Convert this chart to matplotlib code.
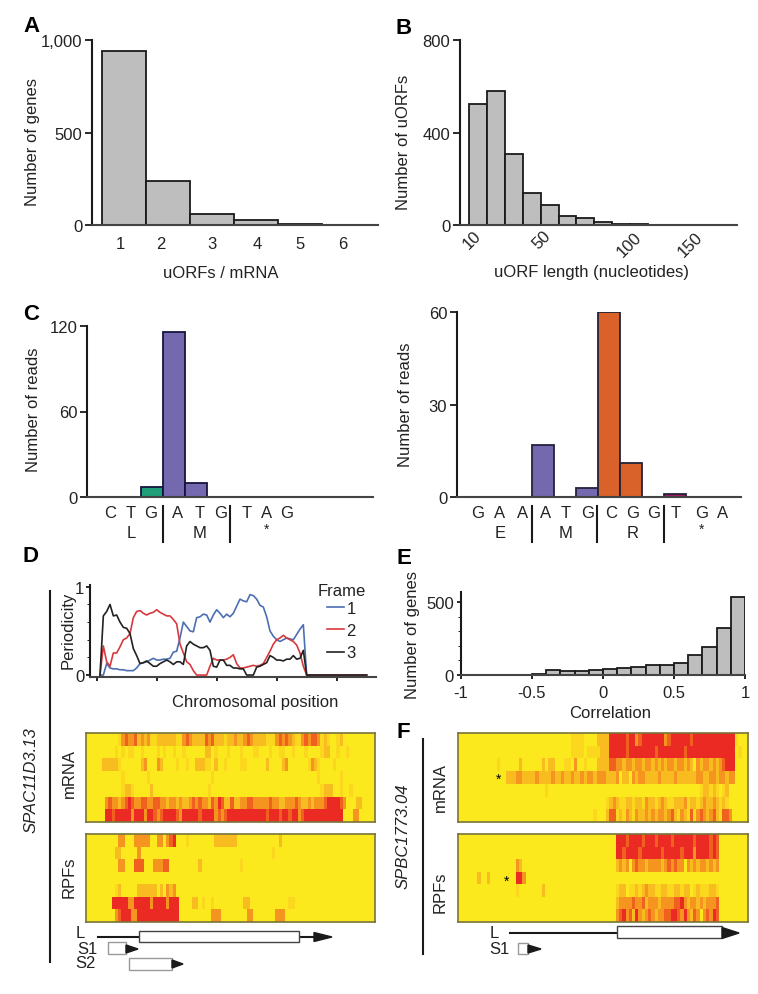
# chart recreation, values
import matplotlib
matplotlib.use('Agg')
import matplotlib.pyplot as plt
from matplotlib.colors import ListedColormap
import numpy as np

plt.rcParams['font.family'] = ['Liberation Sans', 'DejaVu Sans']
plt.rcParams['font.size'] = 12

W, H = 758, 995

# panel A
uorfs_per_mrna = [1, 2, 3, 4, 5, 6]
genes_per_count = [940, 240, 60, 25, 5, 1]

# panel B
length_bin_left = [2, 13.5, 25, 36.5, 48, 59.5, 71, 82.5, 94, 105.5, 117, 128.5, 140, 151.5, 163]
length_counts = [525, 580, 305, 140, 85, 40, 30, 12, 6, 3, 2, 1, 1, 1, 1]
length_ticks = ['10', '50', '100', '150']

# panel C, left and right
codons_c1 = ['C', 'T', 'G', 'A', 'T', 'G', 'T', 'A', 'G']
reads_c1 = [0, 0, 7, 116, 10, 0, 0, 0, 0, 0, 0, 0]
colors_c1 = ['#1F9E78', '#1F9E78', '#1F9E78', '#7468AE', '#7468AE', '#7468AE'] + ['#7468AE'] * 6
codons_c2 = ['G', 'A', 'A', 'A', 'T', 'G', 'C', 'G', 'G', 'T', 'G', 'A']
reads_c2 = [0, 0, 0, 17, 0, 3, 60, 11, 0, 1, 0, 0]
colors_c2 = ['#7468AE'] * 6 + ['#D9622B'] * 3 + ['#A6195F'] * 3

# panel D line plot
frame1 = [0, 0, .13, .08, .07, .07, .06, .06, .05, .05, .05, .08, .13, .14, .15, .17, .19, .17, .17, .18, .18,
          .19, .26, .27, .42, .60, .55, .50, .49, .65, .66, .69, .68, .60, .68, .74, .70, .65, .69, .66, .70,
          .78, .86, .84, .83, .91, .90, .86, .79, .77, .66, .50, .44, .40, .38, .40, .42, .41, .40, .46, .52, .57, 0]
frame2 = [0, .33, .15, .10, .25, .25, .32, .40, .42, .47, .65, .72, .73, .70, .68, .70, .71, .74, .71, .69, .67,
          .67, .63, .58, .35, .25, .15, .12, .05, 0, 0, 0, 0, .10, .19, .17, .17, .17, .18, .20, .23,
          .13, .08, .08, .09, .10, .11, .10, .11, .13, .20, .27, .35, .40, .42, .45, .42, .40, .38, .34, .25, .10, 0]
frame3 = [0, .67, .72, .80, .67, .68, .60, .54, .53, .47, .30, .22, .13, .14, .16, .13, .10, .10, .13, .15, .17,
          .15, .12, .15, .15, .12, .33, .38, .35, .33, .31, .31, .33, .28, .10, .09, .17, .17, .11, .11, .08,
          .08, .07, .07, 0, 0, 0, .09, .10, .12, .14, .22, .20, .17, .17, .16, .18, .18, .22, .18, .19, .28, 0]
trailing_zeros = [0] * 18
frame_ticks = [-1, 17, 35, 53, 71]

# panel E
corr_left = [-.5, -.4, -.3, -.2, -.1, 0, .1, .2, .3, .4, .5, .6, .7, .8, .9]
corr_counts = [10, 33, 27, 30, 37, 40, 47, 58, 72, 72, 82, 135, 190, 322, 535]

# heatmaps, one digit per cell (0 yellow .. 5 red), rows top to bottom
d_mrna = [
    "000000000013433423231122222211343222243422212232234322221113434321134344312100120000000000",
    "000000000101011001000010100100100000022010001000100011000100110010001000012200100100000000",
    "000002222210000002300032000010010022211020010000110000002000023000000132100001000000000000",
    "000000000001000000010000000000000000000100000000000000000000000000000000100000010000000000",
    "000000000001221000002000000000000000001000000000000000000000000000000000012220010010000000",
    "000000343323454334433443323323223434332435422422334433333433223334322323334555543000220000",
    "000000554555553555355434555543555554555534345555555555554555455455345555555555550003300000",
]
d_rpf = [
    "000000000033000333330033034500010000000022222220000000000000200000000000000000000000000000",
    "000000000220000030000000000000000000000000000000000000000010000000000000000000000000000000",
    "000000000033000444000333440000000002000000000000100000000000000000000000000000000000000000",
    "000000000000000000000000000000000000000000000000000000000000000000000000000000000000000000",
    "000000000120000022222202032300000000000000000000000000000000000000000000000000000000000000",
    "000000005555533555553555535550000220100100000000022000000000000110000000000000000000000000",
    "000000000345553355555555555550000000000333000000003300000003330000000000000000000000000000",
]
f_mrna = [
    "000000000000000000000000000000000001111000022225555545534555555534555555455555555555551000",
    "000000000000000000000000000000000001111011112225555545555555545555555545555555555555550100",
    "000000000000100000020000002022000110300100022224433233233233232323323323203233232345550000",
    "000000000000000222332222322223223223223233233322230220323322223222232222223322332332330000",
    "000000000000000000000000000100000000000000000000000000000000000000000000000122121012000000",
    "000000000000000000000000000000000000000000000012321122122132212321122231221232232121000000",
    "000000000000000000000000000000000000000000100024412132132232323323421321413432342144300000",
]
f_rpf = [
    "000000000000000000000000000000000000000000000000055545555455545555455555545555454000000000",
    "000000000000000000000000000000000000000000000000055455554555555455555455535555454000000000",
    "000000000000000000320000000000000000000000000000023230343323333234343303232332323000000000",
    "000000200200000000553000000000000000000000000000000000000000000000000000000000000000000000",
    "000000000000000000100000002000000000000000000000012201121232211221122122012111221000000000",
    "000000000000000000000000000000000000000000000000023333433423332333344532332323334000000000",
    "000000000000000000000000000000000000000000000000034534253234323344554353243034354000000000",
]
heat_colors = ['#FBE81D', '#FBD81E', '#F9BC20', '#F5951F', '#F0611F', '#EC2A24']


def px_ax(left, top, right, bottom):
    return fig.add_axes([left / W, 1 - bottom / H, (right - left) / W, (bottom - top) / H])


def style(ax):
    ax.spines['top'].set_visible(False)
    ax.spines['right'].set_visible(False)
    ax.spines['left'].set_linewidth(1.5)
    ax.spines['bottom'].set_linewidth(1.5)
    ax.spines['left'].set_color('#1a1a1a')
    ax.spines['bottom'].set_color('#444444')
    ax.tick_params(axis='y', length=5, width=1.3, pad=2, labelsize=12, color='#1a1a1a', labelcolor='#222222')
    ax.tick_params(axis='x', length=0, labelsize=12, labelcolor='#222222')


def heat(rows, left, top, right, bottom):
    ax = px_ax(left, top, right, bottom)
    grid = np.array([[int(c) for c in r] for r in rows])
    ax.imshow(grid, cmap=ListedColormap(heat_colors), vmin=0, vmax=5, aspect='auto', interpolation='nearest')
    ax.set_xticks([])
    ax.set_yticks([])
    for s in ax.spines.values():
        s.set_color('#77743A')
        s.set_linewidth(1.2)
    return ax


fig = plt.figure(figsize=(7.58, 9.95), dpi=100)

# A
ax = px_ax(92, 41, 378, 226)
ax.bar(uorfs_per_mrna, genes_per_count, width=1, color='#BEBEBE', edgecolor='#1a1a1a', linewidth=1.3)
ax.set_xlim(0.273, 6.77)
ax.set_ylim(0, 1000)
ax.set_yticks([0, 500, 1000], ['0', '500', '1,000'])
ax.set_xticks([0.91, 1.84, 3, 4.02, 5, 5.98], ['1', '2', '3', '4', '5', '6'])
style(ax)
ax.tick_params(axis='x', pad=8)

# B
ax = px_ax(460, 41, 737, 226)
ax.bar(length_bin_left, length_counts, width=11.5, align='edge', color='#BEBEBE', edgecolor='#1a1a1a', linewidth=1.3)
ax.set_xlim(-3.78, 174.1)
ax.set_ylim(0, 800)
ax.set_yticks([0, 400, 800])
ax.set_xticks([])
style(ax)

# C left
ax = px_ax(87, 327, 373, 498)
ax.bar(range(12), reads_c1, width=1, color=colors_c1, edgecolor='#15153f', linewidth=1.3)
ax.set_xlim(-0.95, 12.05)
ax.set_ylim(0, 120)
ax.set_yticks([0, 60, 120])
ax.set_xticks([])
style(ax)

# C right
ax = px_ax(457, 313, 741, 498)
ax.bar(range(12), reads_c2, width=1, color=colors_c2, edgecolor='#22223a', linewidth=1.3)
ax.set_xlim(-0.91, 12.0)
ax.set_ylim(0, 60)
ax.set_yticks([0, 30, 60])
ax.set_xticks([])
style(ax)

# D line plot
ax = px_ax(90, 586, 376, 678)
pos = np.arange(len(frame1) + len(trailing_zeros))
ax.plot(pos, frame1 + trailing_zeros, color='#4C6FB2', lw=1.2)
ax.plot(pos, frame2 + trailing_zeros, color='#D8383E', lw=1.2)
ax.plot(pos, frame3 + trailing_zeros, color='#222222', lw=1.2)
ax.set_xlim(-3, 82.8)
ax.set_ylim(-0.022, 1.02)
ax.set_yticks([0, 1])
ax.set_yticks([.2, .4, .6, .8], minor=True)
ax.set_xticks(frame_ticks, [])
style(ax)
ax.tick_params(axis='y', length=3, pad=1)
ax.tick_params(axis='y', which='minor', length=2)
ax.tick_params(axis='x', length=3, width=1.2)

# E
ax = px_ax(461, 593, 745, 676)
ax.bar(corr_left, corr_counts, width=.1, align='edge', color='#BEBEBE', edgecolor='#1a1a1a', linewidth=1.3)
ax.set_xlim(-1, 1)
ax.set_ylim(0, 570)
ax.set_yticks([0, 500], ['0', '500'])
ax.set_yticks([100, 200, 300, 400], minor=True)
ax.set_xticks([-1, -.5, 0, .5, 1], ['-1', '-0.5', '0', '0.5', '1'])
style(ax)
ax.tick_params(axis='y', length=3, pad=2)
ax.tick_params(axis='y', which='minor', length=2)
ax.tick_params(axis='x', length=3, width=1.2, pad=4)

# heatmaps
heat(d_mrna, 86, 734, 375, 823)
heat(d_rpf, 86, 835, 375, 923)
heat(f_mrna, 458, 734, 748, 823)
heat(f_rpf, 458, 835, 748, 923)

# overlay in pixel coordinates for labels and gene models
over = fig.add_axes([0, 0, 1, 1], zorder=10)
over.set_xlim(0, W)
over.set_ylim(H, 0)
over.axis('off')


def t(x, y, s, **kw):
    kw.setdefault('ha', 'center')
    kw.setdefault('va', 'center')
    kw.setdefault('color', '#222222')
    over.text(x, y, s, **kw)


for x, y, s in [(32, 27, 'A'), (404, 29, 'B'), (31, 314, 'C'), (31, 557, 'D'), (404, 558, 'E'), (403, 732, 'F')]:
    t(x, y, s, fontsize=16, fontweight='bold', color='black')

for x, y, s in zip([472, 542, 629, 690], [240, 240, 245, 245], length_ticks):
    t(x, y, s, rotation=45)

t(221, 273, 'uORFs / mRNA')
t(592, 273, 'uORF length (nucleotides)')
t(255, 702, 'Chromosomal position')
t(610, 713, 'Correlation')
for x, y, s in [(33, 142, 'Number of genes'), (403, 142, 'Number of uORFs'), (34, 410, 'Number of reads'),
                (405, 405, 'Number of reads'), (68, 630, 'Periodicity'), (413, 635, 'Number of genes'),
                (69, 773, 'mRNA'), (69, 877, 'RPFs'), (440, 787, 'mRNA'), (440, 892, 'RPFs')]:
    t(x, y, s, rotation=90)
t(31, 780, 'SPAC11D3.13', rotation=90, style='italic')
t(403, 836, 'SPBC1773.04', rotation=90, style='italic')

# codon labels under panel C
for x, s in zip([110, 131, 151, 178, 200, 221, 247, 267, 287], codons_c1):
    t(x, 513, s)
for x, s in [(131, 'L'), (200, 'M')]:
    t(x, 533, s)
t(267, 530, '*', fontsize=10)
for x, s in zip([478, 500, 523, 546, 566, 588, 611, 633, 654, 676, 702, 723], codons_c2):
    t(x, 513, s)
for x, s in [(500, 'E'), (566, 'M'), (633, 'R')]:
    t(x, 533, s)
t(702, 530, '*', fontsize=10)
for x in [163, 230, 532, 597, 664]:
    over.plot([x, x], [507, 543], color='#1a1a1a', lw=1.5)

# legend of panel D
t(342, 592, 'Frame')
for y, c, s in [(609, '#4C6FB2', '1'), (631, '#D8383E', '2'), (654, '#222222', '3')]:
    over.plot([327, 344], [y - 1, y - 1], color=c, lw=1.2)
    t(351, y, s)

# side bars
over.plot([50, 50], [592, 963], color='#1a1a1a', lw=1.5)
over.plot([423, 423], [740, 955], color='#1a1a1a', lw=1.5)

# asterisks in panel F
t(499, 780, '*', fontsize=10, color='black')
t(507, 882, '*', fontsize=10, color='black')


def gene_box(x0, x1, y0, y1, edge='#444444'):
    over.fill([x0, x1, x1, x0], [y0, y0, y1, y1], facecolor='white', edgecolor=edge, lw=1, zorder=3)


def arrow(x0, x1, y, h=4.5):
    over.fill([x0, x1, x0], [y - h, y, y + h], color='#1a1a1a', zorder=4)


# gene models D
over.plot([98, 315], [938, 938], color='#1a1a1a', lw=1.5)
gene_box(139, 299, 932, 943)
arrow(314, 332, 938)
gene_box(108, 126, 943, 955, edge='#999999')
arrow(126, 138, 950, 4)
gene_box(129, 172, 959, 971, edge='#999999')
arrow(172, 183, 965, 4)
t(80, 933, 'L')
t(87, 950, 'S1')
t(85, 964, 'S2')

# gene models F
over.plot([510, 617], [934, 934], color='#1a1a1a', lw=1.5)
gene_box(617, 722, 927, 939)
arrow(722, 739, 934, 5.5)
gene_box(518, 528, 944, 955, edge='#999999')
arrow(528, 541, 950, 4)
t(494, 933, 'L')
t(499, 949, 'S1')

fig.savefig('out.png', dpi=100)
